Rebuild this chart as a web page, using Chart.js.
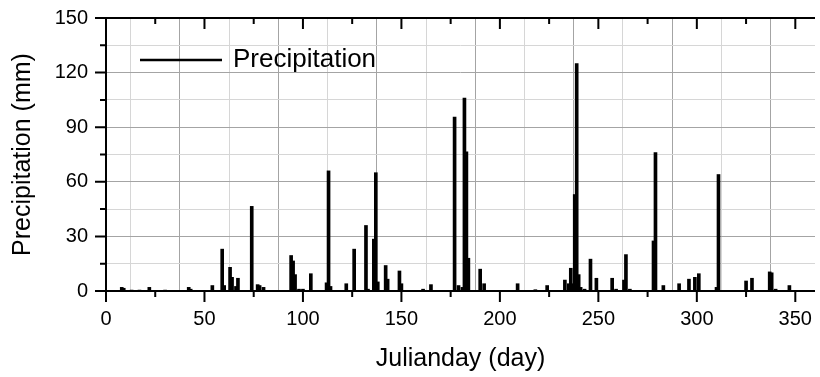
<!DOCTYPE html>
<html>
<head>
<meta charset="utf-8">
<script src="https://cdn.jsdelivr.net/npm/chart.js"></script>
<style>
  html, body { margin: 0; padding: 0; background: #fff; }
  #wrap { width: 820px; height: 377px; }
</style>
</head>
<body>
<div id="wrap"><canvas id="myChart" width="820" height="377"></canvas></div>
<script>
/* julian day of each rain event */
const days = [8, 9, 13, 17, 22, 30, 34, 42, 43, 54, 59, 60, 63, 64, 66, 67, 74, 77, 78, 80,
  94, 95, 96, 98, 100, 104, 112, 113, 114, 122, 126, 132, 133, 136, 137, 138, 142, 143, 149, 150,
  161, 165, 177, 179, 181, 182, 183, 184, 190, 192, 209, 218, 224, 233, 235, 236, 237, 238, 239, 240,
  241, 243, 246, 249, 257, 259, 263, 264, 266, 278, 279, 283, 291, 296, 299, 301, 310, 311, 325, 328,
  337, 338, 340, 347];

/* precipitation (mm) */
const precip = [2, 1.5, 0.5, 0.5, 2, 0.5, 0.3, 2, 1, 3, 23, 3, 13, 7.5, 2.5, 7, 46.5, 3.5, 3, 2,
  19.5, 16.5, 9, 1, 1, 9.5, 4.5, 66, 2.5, 4, 23, 36, 1, 28.5, 65, 5, 14, 6.5, 11, 4,
  1, 3.5, 95.5, 3, 2, 106, 76.5, 18, 12, 4, 4, 0.7, 3, 6, 4, 12.5, 4, 53, 125, 9,
  2, 1, 17.5, 7, 7, 1, 6, 20, 1, 27.5, 76, 3, 4, 6.5, 7.5, 9.5, 2, 64, 5.5, 7,
  10.5, 10, 1, 3];

const xTicks = [0, 25, 50, 75, 100, 125, 150, 175, 200, 225, 250, 275, 300, 325, 350];
const yTicks = [0, 15, 30, 45, 60, 75, 90, 105, 120, 135, 150];

Chart.defaults.font.family = "'Liberation Sans', Arial, sans-serif";
Chart.defaults.color = '#000';

const frame = {
  id: 'frame',
  afterDatasetsDraw(chart) {
    const {ctx, chartArea: a, scales: {x, y}} = chart;
    ctx.save();
    ctx.strokeStyle = '#000';
    ctx.lineWidth = 2;
    ctx.beginPath();
    ctx.moveTo(a.left, a.top); ctx.lineTo(a.right, a.top);
    ctx.moveTo(a.left, a.top - 1); ctx.lineTo(a.left, a.bottom);
    ctx.moveTo(a.left, a.bottom); ctx.lineTo(a.right, a.bottom);
    xTicks.forEach(v => {
      const px = x.getPixelForValue(v);
      const len = v % 50 === 0 ? 11 : 6;
      ctx.moveTo(px, a.bottom); ctx.lineTo(px, a.bottom + len);
      ctx.moveTo(px, a.top); ctx.lineTo(px, a.top + len);
    });
    yTicks.forEach(v => {
      const py = y.getPixelForValue(v);
      const len = v % 30 === 0 ? 11 : 6;
      ctx.moveTo(a.left, py); ctx.lineTo(a.left - len, py);
    });
    ctx.stroke();

    // legend
    const lx = a.left + 34, ly = a.top + 42;
    ctx.lineWidth = 2.5;
    ctx.beginPath();
    ctx.moveTo(lx, ly); ctx.lineTo(lx + 82, ly);
    ctx.stroke();
    ctx.fillStyle = '#000';
    ctx.font = "26px 'Liberation Sans', Arial, sans-serif";
    ctx.textBaseline = 'middle';
    ctx.fillText('Precipitation', lx + 93, ly);
    ctx.restore();
  }
};

const data = {
  datasets: [{
    label: 'Precipitation',
    backgroundColor: '#000',
    borderWidth: 0,
    barThickness: 3,
    data: days.map((d, i) => ({x: d, y: precip[i]}))
  }]
};

const config = {
  type: 'bar',
  data: data,
  options: {
    responsive: false,
    animation: false,
    layout: { padding: { left: 0, right: 5, top: 18, bottom: 0 } },
    scales: {
      x: {
        type: 'linear',
        min: 0,
        max: 360,
        offset: false,
        afterBuildTicks: s => { s.ticks = xTicks.map(v => ({value: v})); },
        afterFit: s => { s.height = 86; s.paddingLeft = 0; s.paddingRight = 0; },
        ticks: {
          autoSkip: false,
          maxRotation: 0,
          padding: 16,
          font: { size: 20 },
          callback: v => v % 50 === 0 ? v : ''
        },
        grid: {
          drawTicks: false,
          color: c => c.tick && c.tick.value % 50 === 0 ? '#a4a4a4' : '#d6d6d6'
        },
        border: { display: false },
        title: {
          display: true,
          text: 'Julianday (day)',
          font: { size: 25 },
          padding: { top: 0, bottom: 3 }
        }
      },
      y: {
        min: 0,
        max: 150,
        afterBuildTicks: s => { s.ticks = yTicks.map(v => ({value: v})); },
        afterFit: s => { s.width = 106; s.paddingTop = 0; s.paddingBottom = 0; },
        ticks: {
          padding: 18,
          font: { size: 20 },
          callback: v => v % 30 === 0 ? v : ''
        },
        grid: {
          drawTicks: false,
          color: c => c.tick && c.tick.value % 30 === 0 ? '#a4a4a4' : '#d6d6d6'
        },
        border: { display: false },
        title: {
          display: true,
          text: 'Precipitation (mm)',
          font: { size: 25 },
          padding: { top: 8, bottom: 0 }
        }
      }
    },
    plugins: {
      legend: { display: false },
      tooltip: { enabled: false }
    }
  },
  plugins: [frame]
};

const myChart = new Chart(document.getElementById('myChart'), config);
</script>
</body>
</html>
